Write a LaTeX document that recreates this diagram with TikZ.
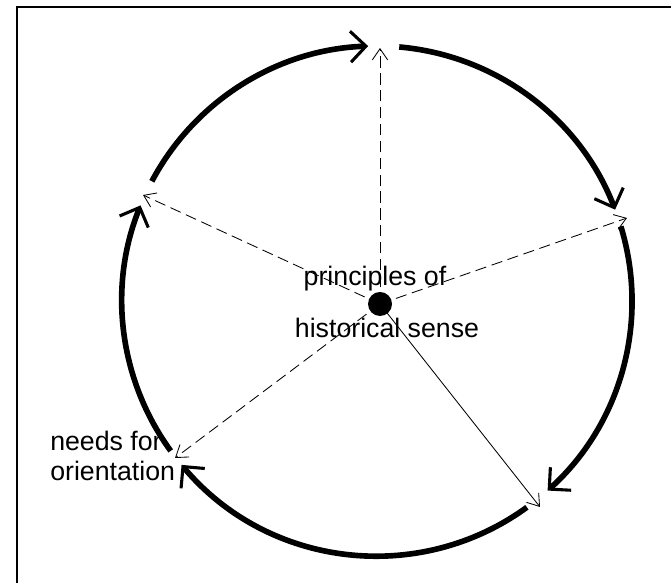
\documentclass[tikz,border=0pt]{standalone}
\usepackage{fontspec}
\setmainfont{Liberation Sans}
\usetikzlibrary{arrows.meta,positioning,calc}

\begin{document}
\begin{tikzpicture}[x=0.025cm, y=0.025cm,
  rim/.style={line width=4pt, -{Straight Barb[length=11pt, width=22pt, line width=2.2pt]}},
  spoke/.style={line width=0.6pt, dash pattern=on 8pt off 4pt, -{Straight Barb[length=8pt, width=11pt, line width=0.6pt]}},
  ray/.style={line width=0.6pt, -{Straight Barb[length=8pt, width=11pt, line width=0.6pt]}},
  txt/.style={font=\fontsize{19}{21.5}\selectfont, inner sep=0pt}]
  \useasboundingbox (0,0) rectangle (671,583);

  % Rahmen
  \draw[line width=1.4pt] (17,-10) -- (17,576) -- (690,576);

  % Mittelpunkt und Randpunkte
  \coordinate (o) at (377,282);
  \node[circle, fill, inner sep=0pt, minimum size=0.6cm] (hub) at (380,279) {};
  \coordinate (ptop)   at (380,535);
  \coordinate (pright) at (627,365);
  \coordinate (pleft)  at (143,388);
  \coordinate (plow)   at (175,125);
  \coordinate (pdown)  at (540,76);

  % Kreisboegen im Uhrzeigersinn
  \draw[rim] ($(o)+(152:255)$) arc[start angle=152, end angle=92, radius=6.375cm];
  \draw[rim] ($(o)+(85:255)$)  arc[start angle=85,  end angle=21, radius=6.375cm];
  \draw[rim] ($(o)+(17:255)$)  arc[start angle=17,  end angle=-48, radius=6.375cm];
  \draw[rim] ($(o)+(-54:255)$) arc[start angle=-54, end angle=-140, radius=6.375cm];
  \draw[rim] ($(o)+(-144:255)$) arc[start angle=-144, end angle=-202, radius=6.375cm];

  % Strahlen
  \draw[spoke] (hub.center) -- (ptop);
  \draw[spoke] (hub.center) -- (pright);
  \draw[spoke] (hub.center) -- (pleft);
  \draw[spoke] (hub.center) -- (plow);
  \draw[ray]   (hub.center) -- (pdown);

  % Beschriftungen
  \node[txt, anchor=base] (upper) at (375,297) {principles of};
  \node[txt, anchor=base] (lower) at (387,245) {historical sense};
  \node[txt, anchor=base west, align=left] (needs) at (50,102) {needs for\\orientation};
\end{tikzpicture}
\end{document}
